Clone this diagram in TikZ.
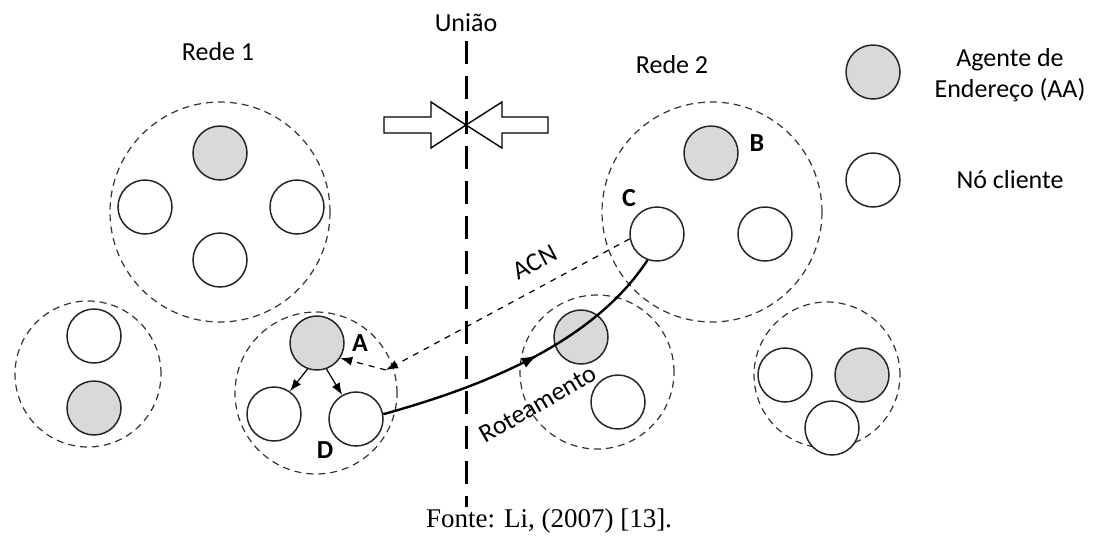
\documentclass[tikz,border=0pt]{standalone}
\usepackage{fontspec}
\setmainfont{Carlito}
\newfontfamily\fontefonte{Liberation Serif}
\usetikzlibrary{arrows.meta,decorations.markings}

\tikzstyle{agente} = [draw=black!85, circle, line width=0.75pt, fill=gray!30, minimum size=27pt, inner sep=0pt]
\tikzstyle{cliente} = [agente, fill=white]
\tikzstyle{grupo} = [draw=black!80, circle, dash pattern=on 3.5pt off 2.5pt, line width=0.6pt, inner sep=0pt]
\tikzstyle{rotulo} = [font=\fontsize{13}{15.5}\selectfont]
\tikzstyle{letra} = [font=\fontsize{13}{15.5}\selectfont\bfseries]
\tikzstyle{seta} = [-{Latex[length=6pt,width=4.5pt]}, line width=0.6pt]

\begin{document}
\begin{tikzpicture}[x=0.5pt, y=-0.5pt]
    \useasboundingbox (0,0) rectangle (1102,542);

    % setas de bloco da uniao
    \draw[line width=0.7pt, fill=white] (384,117) -- (431,117) -- (431,102) -- (466,125)
        -- (431,148) -- (431,133) -- (384,133) -- cycle;
    \draw[line width=0.7pt, fill=white] (548,117) -- (502,117) -- (502,102) -- (466,125)
        -- (502,148) -- (502,133) -- (548,133) -- cycle;
    \coordinate (topo) at (466,41);
    \coordinate (base) at (466,507);
    \draw[line width=1.5pt, dash pattern=on 11.5pt off 6pt] (topo) -- (base);
    \node[rotulo] (uniao) at (466,23) {União};

    \node[rotulo] (rede1) at (218,52) {Rede 1};
    \node[rotulo] (rede2) at (672,65) {Rede 2};

    % grupos da rede 1
    \node[grupo, minimum size=110pt] (g1) at (220,212) {};
    \node[agente] (g1a) at (220,153) {};
    \node[cliente] (g1b) at (145,207) {};
    \node[cliente] (g1c) at (297,207) {};
    \node[cliente] (g1d) at (220,260) {};

    \node[grupo, minimum size=73pt] (g2) at (88,374) {};
    \node[cliente] (g2b) at (94,336) {};
    \node[agente] (g2a) at (94,408) {};

    \node[grupo, minimum size=81pt] (g3) at (316,393) {};
    \node[agente] (a) at (317,343) {};
    \node[cliente] (e1) at (274,414) {};
    \node[cliente] (d) at (356,419) {};
    \node[letra] (la) at (360,343) {A};
    \node[letra] (ld) at (325,450) {D};
    \draw[seta] (a.250) -- (e1.55);
    \draw[seta] (a.290) -- (d.120);

    % grupos da rede 2
    \node[grupo, minimum size=110pt] (g4) at (712,212) {};
    \node[agente] (b) at (711,153) {};
    \node[cliente] (c) at (657,234) {};
    \node[cliente] (g4c) at (765,234) {};
    \node[letra] (lb) at (757,143) {B};
    \node[letra] (lc) at (629,198) {C};

    \node[grupo, minimum size=77pt] (g5) at (597,372) {};
    \node[agente] (g5a) at (581,337) {};
    \node[cliente] (g5b) at (618,402) {};

    \node[grupo, minimum size=73pt] (g6) at (827,375) {};
    \node[cliente] (g6b) at (785,375) {};
    \node[agente] (g6a) at (862,375) {};
    \node[cliente] (g6c) at (832,428) {};

    % mensagem ACN
    \coordinate (dobra) at (386,370);
    \draw[seta, dashed] (c.190) -- (dobra);
    \draw[seta, dashed] (dobra) -- (a.-33);
    \node[rotulo, rotate=28] (acn) at (535,262) {ACN};

    % roteamento de D ate C
    \draw[line width=1.2pt, postaction={decorate}, decoration={markings,
        mark=at position 0.53 with {\arrow{Latex[length=8pt,width=5.5pt]}}}]
        (d.10) .. controls (470,390) and (590,348) .. (c.250);
    \node[rotulo, rotate=30] (rot) at (538,404) {Roteamento};

    % legenda
    \node[agente] (legaa) at (873,72) {};
    \node[cliente] (legno) at (873,180) {};
    \node[rotulo, align=center] (txtaa) at (1010,75) {Agente de\\Endereço (AA)};
    \node[rotulo] (txtno) at (1010,180) {Nó cliente};

    \node[font=\fontefonte\fontsize{13.5}{16}\selectfont] (fonte) at (549,521) {Fonte: Li, (2007) [13].};
\end{tikzpicture}
\end{document}
